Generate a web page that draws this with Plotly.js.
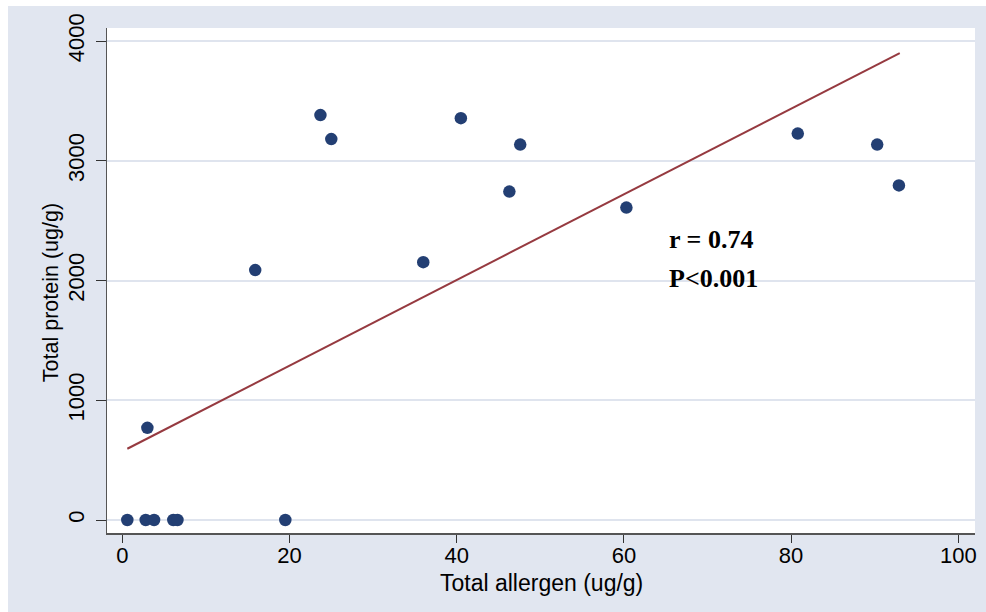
<!DOCTYPE html>
<html>
<head>
<meta charset="utf-8">
<script src="https://cdn.plot.ly/plotly-3.0.1.min.js"></script>
<style>
  html, body { margin: 0; padding: 0; background: #ffffff; width: 986px; height: 612px; overflow: hidden; }
  #chart { position: absolute; left: 8px; top: 6px; width: 978px; height: 606px; }
</style>
</head>
<body>
<div id="chart"></div>
<script>
// Data
const allergen = [0.6, 2.8, 3.8, 6.1, 6.6, 19.5, 3.0, 15.9, 23.7, 25.0, 36.0, 40.5, 46.3, 47.6, 60.3, 80.8, 90.3, 92.9];
const protein  = [0,   0,   0,   0,   0,   0,    770, 2087, 3382, 3181, 2153, 3356, 2743, 3135, 2609, 3227, 3135, 2794];
// Fitted line end points
const fitX = [0.6, 93.0];
const fitY = [595, 3900];
const xTicks = [0, 20, 40, 60, 80, 100];
const yTicks = [0, 1000, 2000, 3000, 4000];
const statText = ["r = 0.74", "P<0.001"];
const xTitle = "Total allergen (ug/g)";
const yTitle = "Total protein (ug/g)";

const traces = [
  {
    x: allergen, y: protein, type: 'scatter', mode: 'markers',
    marker: { color: '#233f73', size: 12.5 },
    hoverinfo: 'x+y', showlegend: false
  },
  {
    x: fitX, y: fitY, type: 'scatter', mode: 'lines',
    line: { color: '#963a40', width: 2 },
    hoverinfo: 'skip', showlegend: false
  }
];

const sans = 'Liberation Sans, Arial, sans-serif';
const tickFont = { family: sans, size: 22, color: '#000000' };

const layout = {
  width: 978, height: 606,
  paper_bgcolor: '#e1e6f0',
  plot_bgcolor: '#ffffff',
  margin: { l: 99, r: 11, t: 22, b: 79 },
  showlegend: false,
  xaxis: {
    range: [-1.83, 102.0],
    tickvals: xTicks, ticktext: xTicks.map(String),
    ticks: 'outside', ticklen: 8, tickwidth: 1, tickcolor: '#333333',
    ticklabelstandoff: -6,
    showline: true, linecolor: '#555555', linewidth: 1.5,
    showgrid: false, zeroline: false,
    tickfont: tickFont
  },
  yaxis: {
    range: [-108.6, 4109],
    tickvals: yTicks, ticktext: yTicks.map(String),
    tickangle: -90,
    ticks: 'outside', ticklen: 10, tickwidth: 1, tickcolor: '#333333',
    ticklabelstandoff: 3,
    showline: true, linecolor: '#555555', linewidth: 1.5,
    showgrid: true, gridcolor: '#dfe4ee', gridwidth: 2,
    zeroline: false,
    tickfont: tickFont
  },
  annotations: [
    { x: 0.5, y: -0.099, xref: 'paper', yref: 'paper', xanchor: 'center', yanchor: 'middle', showarrow: false,
      text: xTitle, font: { family: sans, size: 23, color: '#000000' } },
    { x: -0.0645, y: 0.475, xref: 'paper', yref: 'paper', xanchor: 'center', yanchor: 'middle', showarrow: false,
      textangle: -90, text: yTitle, font: { family: sans, size: 21.5, color: '#000000' } },
    { x: 65.1, y: 2346, xref: 'x', yref: 'y', xanchor: 'left', yanchor: 'middle', showarrow: false,
      text: '<b>' + statText[0] + '</b>', font: { family: 'Liberation Serif, Times New Roman, serif', size: 26, color: '#000000' } },
    { x: 65.1, y: 2020, xref: 'x', yref: 'y', xanchor: 'left', yanchor: 'middle', showarrow: false,
      text: '<b>' + statText[1] + '</b>', font: { family: 'Liberation Serif, Times New Roman, serif', size: 26, color: '#000000' } }
  ]
};

Plotly.newPlot('chart', traces, layout, { displayModeBar: false, staticPlot: true });
</script>
</body>
</html>
